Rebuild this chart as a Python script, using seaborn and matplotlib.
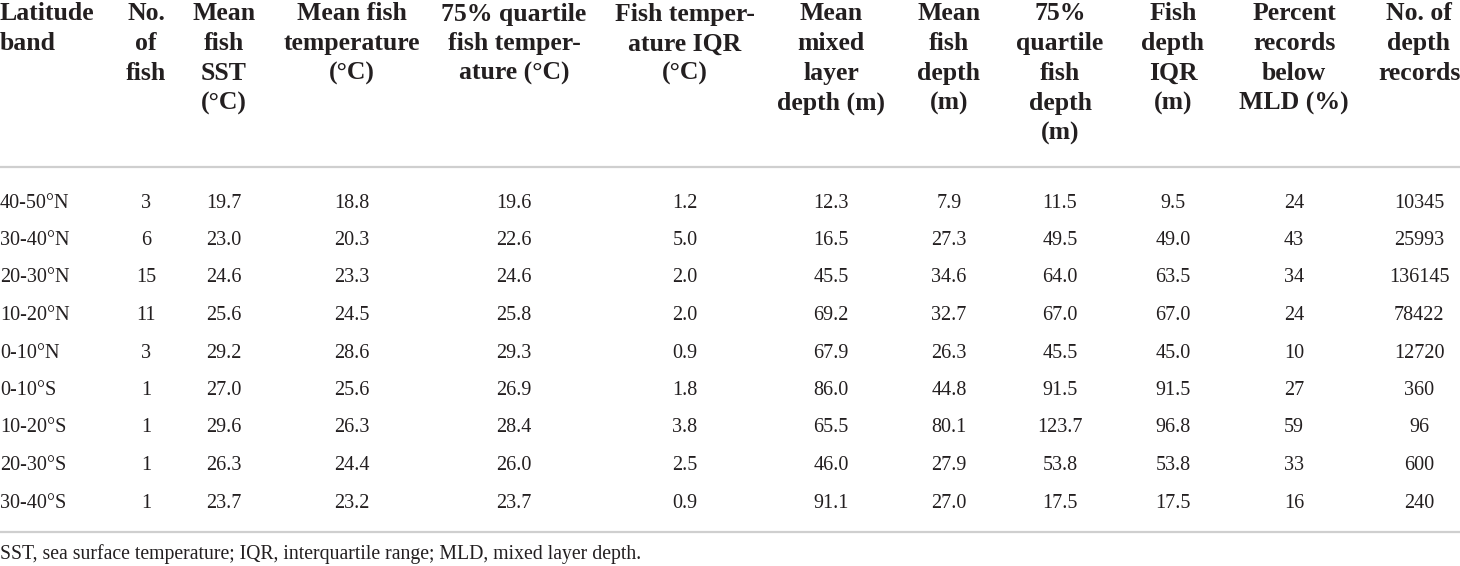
import matplotlib
matplotlib.use("Agg")
import matplotlib.pyplot as plt
import seaborn as sns

sns.set_theme(style="white")
plt.rcParams['font.family'] = ['Liberation Serif', 'DejaVu Serif']

# ---------------- data ----------------
lat_bands = ["40-50°N", "30-40°N", "20-30°N", "10-20°N", "0-10°N",
             "0-10°S", "10-20°S", "20-30°S", "30-40°S"]
n_fish = [3, 6, 15, 11, 3, 1, 1, 1, 1]
mean_sst = [19.7, 23.0, 24.6, 25.6, 29.2, 27.0, 29.6, 26.3, 23.7]
mean_temp = [18.8, 20.3, 23.3, 24.5, 28.6, 25.6, 26.3, 24.4, 23.2]
q75_temp = [19.6, 22.6, 24.6, 25.8, 29.3, 26.9, 28.4, 26.0, 23.7]
iqr_temp = [1.2, 5.0, 2.0, 2.0, 0.9, 1.8, 3.8, 2.5, 0.9]
mean_mld = [12.3, 16.5, 45.5, 69.2, 67.9, 86.0, 65.5, 46.0, 91.1]
mean_depth = [7.9, 27.3, 34.6, 32.7, 26.3, 44.8, 80.1, 27.9, 27.0]
q75_depth = [11.5, 49.5, 64.0, 67.0, 45.5, 91.5, 123.7, 53.8, 17.5]
iqr_depth = [9.5, 49.0, 63.5, 67.0, 45.0, 91.5, 96.8, 53.8, 17.5]
pct_below = [24, 43, 34, 24, 10, 27, 59, 33, 16]
n_records = [10345, 25993, 136145, 78422, 12720, 360, 96, 600, 240]

headers = [
    ["Latitude", "band"],
    ["No.", "of", "fish"],
    ["Mean", "fish", "SST", "(°C)"],
    ["Mean fish", "temperature", "(°C)"],
    ["75% quartile", "fish temper-", "ature (°C)"],
    ["Fish temper-", "ature IQR", "(°C)"],
    ["Mean", "mixed", "layer", "depth (m)"],
    ["Mean", "fish", "depth", "(m)"],
    ["75%", "quartile", "fish", "depth", "(m)"],
    ["Fish", "depth", "IQR", "(m)"],
    ["Percent", "records", "below", "MLD (%)"],
    ["No. of", "depth", "records"],
]
footnote = "SST, sea surface temperature; IQR, interquartile range; MLD, mixed layer depth."

columns = [
    lat_bands,
    [str(v) for v in n_fish],
    [f"{v:.1f}" for v in mean_sst],
    [f"{v:.1f}" for v in mean_temp],
    [f"{v:.1f}" for v in q75_temp],
    [f"{v:.1f}" for v in iqr_temp],
    [f"{v:.1f}" for v in mean_mld],
    [f"{v:.1f}" for v in mean_depth],
    [f"{v:.1f}" for v in q75_depth],
    [f"{v:.1f}" for v in iqr_depth],
    [str(v) for v in pct_below],
    [str(v) for v in n_records],
]

# ---------------- layout (pixels) ----------------
W, H = 1460, 566
col_x = [0, 146, 224, 352, 514, 685, 831, 949, 1060, 1173, 1294, 1419]
head_y0, head_dy = 14, 29.8
row_y0, row_dy = 203, 37.5
rule_top, rule_bot = 167, 532
foot_y = 554
txt_col = "#231f20"

fig = plt.figure(figsize=(W / 100, H / 100), dpi=100)
ax = fig.add_axes([0, 0, 1, 1])
ax.set_xlim(0, W)
ax.set_ylim(H, 0)
ax.axis("off")

for ci, lines in enumerate(headers):
    ha = "left" if ci == 0 else "center"
    for li, t in enumerate(lines):
        ax.text(col_x[ci], head_y0 + li * head_dy, t, ha=ha, va="center",
                fontsize=18.5, fontweight="bold", color=txt_col)

for ci, col in enumerate(columns):
    ha = "left" if ci == 0 else "center"
    for ri, t in enumerate(col):
        ax.text(col_x[ci], row_y0 + ri * row_dy, t, ha=ha, va="center",
                fontsize=14.5, color=txt_col)

for yy in (rule_top, rule_bot):
    ax.axhline(yy, color="#cfcfcf", lw=1.6)

ax.text(0, foot_y, footnote, ha="left", va="center", fontsize=14.2, color=txt_col)

fig.savefig("out.png", dpi=100)
